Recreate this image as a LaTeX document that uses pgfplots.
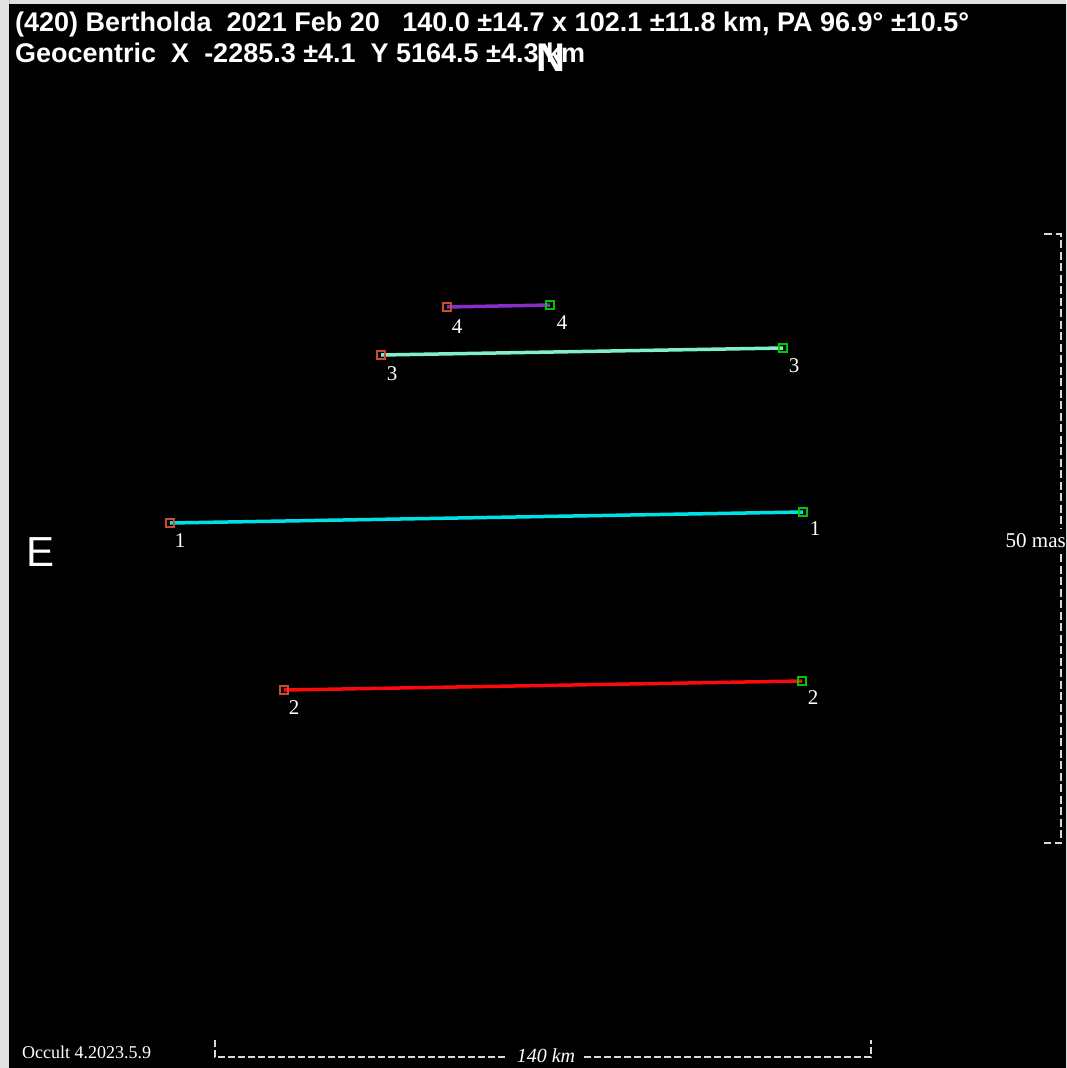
\documentclass[border=0pt]{standalone}
\usepackage{fontspec}
\setmainfont{Liberation Serif}
\setsansfont{Liberation Sans}
\usepackage{pgfplots}
\pgfplotsset{compat=1.18}
\definecolor{c4}{RGB}{135,45,200}
\definecolor{c3}{RGB}{127,240,200}
\definecolor{c1}{RGB}{0,225,230}
\definecolor{c2}{RGB}{250,10,10}
\definecolor{mred}{RGB}{205,75,45}
\definecolor{mgreen}{RGB}{0,200,0}
\definecolor{bord}{RGB}{225,225,225}
\begin{document}
\begin{tikzpicture}
\begin{axis}[width=1066pt, height=1068pt, scale only axis,
  xmin=0, xmax=1066, ymin=0, ymax=1068, y dir=reverse,
  hide axis, clip=false]
% background
\addplot[fill=bord, draw=none] coordinates {(0,0) (1066,0) (1066,1068) (0,1068)} \closedcycle;
\addplot[fill=black, draw=none] coordinates {(9,4) (1066,4) (1066,1068) (9,1068)} \closedcycle;
% chords
\addplot[c4, line width=3.5pt] coordinates {(447,307) (550,305)};
\addplot[c3, line width=3.5pt] coordinates {(381,355) (783,348)};
\addplot[c1, line width=3.5pt] coordinates {(170,523) (803,512)};
\addplot[c2, line width=3.5pt] coordinates {(284,690) (802,681)};
% end markers
\addplot[only marks, mark=square, mark size=4pt, mark options={draw=mred, line width=1.6pt}]
  coordinates {(447,307) (381,355) (170,523) (284,690)};
\addplot[only marks, mark=square, mark size=4pt, mark options={draw=mgreen, line width=1.6pt}]
  coordinates {(550,305) (783,348) (803,512) (802,681)};
% scale bars
\addplot[white!85!black, line width=1.4pt, dash pattern=on 8pt off 3.5pt] coordinates {(1044,234) (1061,234) (1061,528)};
\addplot[white!85!black, line width=1.4pt, dash pattern=on 8pt off 3.5pt] coordinates {(1061,554) (1061,843) (1044,843)};
\addplot[white!85!black, line width=1.4pt, dash pattern=on 7pt off 3pt] coordinates {(215,1040) (215,1057) (508,1057)};
\addplot[white!85!black, line width=1.4pt, dash pattern=on 7pt off 3pt] coordinates {(584,1057) (871,1057) (871,1040)};
% labels
\node[text=white, inner sep=0pt, anchor=base west, font=\sffamily\bfseries\fontsize{27}{30}\selectfont] at (axis cs:15,31)
  {(420) Bertholda\ \ 2021 Feb 20\ \ \ 140.0 ±14.7 x 102.1 ±11.8 km, PA 96.9° ±10.5°};
\node[text=white, inner sep=0pt, anchor=base west, font=\sffamily\bfseries\fontsize{27}{30}\selectfont] at (axis cs:15,62)
  {Geocentric\ \ X\ \ -2285.3 ±4.1\ \ Y 5164.5 ±4.3 km};
\node[text=white, inner sep=0pt, anchor=base, font=\sffamily\bfseries\fontsize{40}{44}\selectfont] at (axis cs:551,71) {N};
\node[text=white, inner sep=0pt, anchor=base west, font=\sffamily\fontsize{42}{46}\selectfont] at (axis cs:26,566) {E};
\node[text=white, inner sep=0pt, anchor=base east, font=\fontsize{21}{24}\selectfont] at (axis cs:1066,547) {50 mas};
\node[text=white, inner sep=0pt, anchor=base, font=\itshape\fontsize{20}{24}\selectfont] at (axis cs:546,1062) {140 km};
\node[text=white, inner sep=0pt, anchor=base west, font=\fontsize{18}{22}\selectfont] at (axis cs:22,1058) {Occult 4.2023.5.9};
\node[text=white, inner sep=0pt, anchor=base, font=\fontsize{21}{24}\selectfont] at (axis cs:457,333) {4};
\node[text=white, inner sep=0pt, anchor=base, font=\fontsize{21}{24}\selectfont] at (axis cs:562,329) {4};
\node[text=white, inner sep=0pt, anchor=base, font=\fontsize{21}{24}\selectfont] at (axis cs:392,380) {3};
\node[text=white, inner sep=0pt, anchor=base, font=\fontsize{21}{24}\selectfont] at (axis cs:794,372) {3};
\node[text=white, inner sep=0pt, anchor=base, font=\fontsize{21}{24}\selectfont] at (axis cs:180,547) {1};
\node[text=white, inner sep=0pt, anchor=base, font=\fontsize{21}{24}\selectfont] at (axis cs:815,535) {1};
\node[text=white, inner sep=0pt, anchor=base, font=\fontsize{21}{24}\selectfont] at (axis cs:294,714) {2};
\node[text=white, inner sep=0pt, anchor=base, font=\fontsize{21}{24}\selectfont] at (axis cs:813,704) {2};
\end{axis}
\end{tikzpicture}
\end{document}
